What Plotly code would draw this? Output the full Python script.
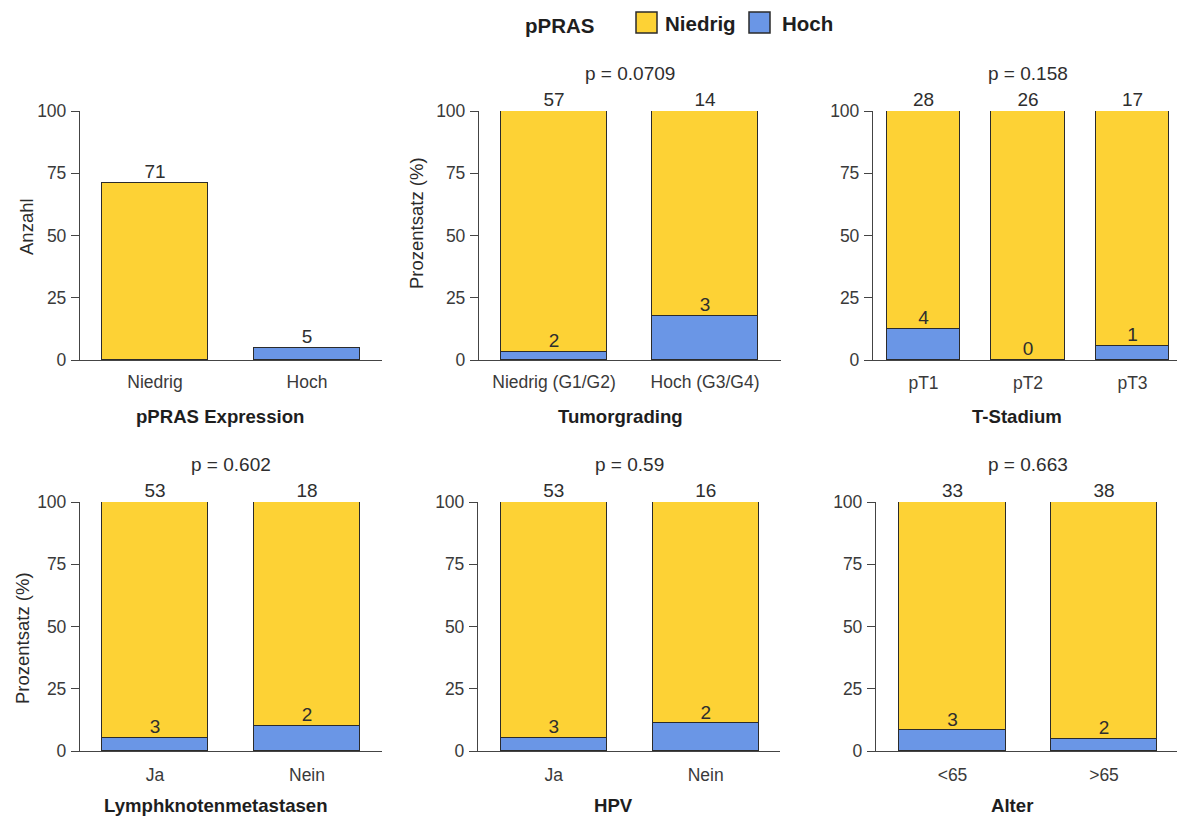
import plotly.graph_objects as go

# ---------------------------------------------------------------- data
# pPRAS expression (absolute counts)
expr_categories = ["Niedrig", "Hoch"]
expr_counts = [71, 5]

# Clinical variables: number of cases with low / high pPRAS per group
grading_categories = ["Niedrig (G1/G2)", "Hoch (G3/G4)"]
grading_niedrig = [57, 14]
grading_hoch = [2, 3]
grading_p = "0.0709"

tstage_categories = ["pT1", "pT2", "pT3"]
tstage_niedrig = [28, 26, 17]
tstage_hoch = [4, 0, 1]
tstage_p = "0.158"

lymph_categories = ["Ja", "Nein"]
lymph_niedrig = [53, 18]
lymph_hoch = [3, 2]
lymph_p = "0.602"

hpv_categories = ["Ja", "Nein"]
hpv_niedrig = [53, 16]
hpv_hoch = [3, 2]
hpv_p = "0.59"

age_categories = ["<65", ">65"]
age_niedrig = [33, 38]
age_hoch = [3, 2]
age_p = "0.663"

# ---------------------------------------------------------------- style
W, H = 1177, 816
YELLOW = "#FDD235"
BLUE = "#6A96E6"
EDGE = "#2b2b2b"
AXIS = "#444444"
TEXT = "#2e2e2e"
FONT = "Liberation Sans, Arial, sans-serif"
BAR_W = 0.70


def px_x(v):
    return v / W


def px_y(v):
    return 1 - v / H


def esc(s):
    return s.replace("<", "&lt;").replace(">", "&gt;")


# panel geometry in pixels: axis line start, y-axis position, axis end,
# first category centre, category step, plot top / bottom,
# plus placement of the x / y titles
panels = [
    dict(left=73, axis=79, right=382, c0=155, step=152, top=111, bottom=360,
         xtitle="pPRAS Expression", xt=(220, 416),
         ytitle="Anzahl", yt=(26, 227), lab_off=6),
    dict(left=472, axis=478, right=781, c0=554, step=151, top=111, bottom=360,
         xtitle="Tumorgrading", xt=(620, 416),
         ytitle="Prozentsatz (%)", yt=(417, 223), lab_off=6),
    dict(left=866, axis=872, right=1177, c0=923.5, step=104.5, top=111, bottom=360,
         xtitle="T-Stadium", xt=(1017, 416), ytitle=None, yt=None, lab_off=7),
    dict(left=73, axis=79, right=382, c0=155, step=152, top=502, bottom=751,
         xtitle="Lymphknotenmetastasen", xt=(216, 805),
         ytitle="Prozentsatz (%)", yt=(22, 638), lab_off=8),
    dict(left=471, axis=477, right=780, c0=553.7, step=152, top=502, bottom=751,
         xtitle="HPV", xt=(613, 805), ytitle=None, yt=None, lab_off=8),
    dict(left=869, axis=875, right=1177, c0=952.5, step=151.5, top=502, bottom=751,
         xtitle="Alter", xt=(1012, 805), ytitle=None, yt=None, lab_off=8),
]

groups = [
    None,
    (grading_categories, grading_niedrig, grading_hoch, grading_p),
    (tstage_categories, tstage_niedrig, tstage_hoch, tstage_p),
    (lymph_categories, lymph_niedrig, lymph_hoch, lymph_p),
    (hpv_categories, hpv_niedrig, hpv_hoch, hpv_p),
    (age_categories, age_niedrig, age_hoch, age_p),
]

fig = go.Figure()
layout = {}
annotations = []

bar_line = dict(color=EDGE, width=1.4)
label_font = dict(family=FONT, size=19, color=TEXT)

for i, (geo, grp) in enumerate(zip(panels, groups), start=1):
    xa = "x" if i == 1 else f"x{i}"
    ya = "y" if i == 1 else f"y{i}"

    if grp is None:
        cats = expr_categories
        colors = [YELLOW, BLUE]
        for c, v, col in zip(cats, expr_counts, colors):
            fig.add_trace(go.Bar(x=[c], y=[v], width=BAR_W, marker_color=col,
                                 marker_line=bar_line, xaxis=xa, yaxis=ya,
                                 cliponaxis=False, showlegend=False))
        fig.add_trace(go.Scatter(x=cats, y=expr_counts, mode="text",
                                 text=[str(v) for v in expr_counts],
                                 textposition="top center", textfont=label_font,
                                 xaxis=xa, yaxis=ya, cliponaxis=False,
                                 showlegend=False, hoverinfo="skip"))
    else:
        cats, niedrig, hoch, pval = grp
        pct_hoch = [h / (n + h) * 100 for n, h in zip(niedrig, hoch)]
        pct_niedrig = [n / (n + h) * 100 for n, h in zip(niedrig, hoch)]
        fig.add_trace(go.Bar(x=cats, y=pct_hoch, width=BAR_W, marker_color=BLUE,
                             marker_line=bar_line, xaxis=xa, yaxis=ya,
                             cliponaxis=False, showlegend=False))
        fig.add_trace(go.Bar(x=cats, y=pct_niedrig, width=BAR_W, marker_color=YELLOW,
                             marker_line=bar_line, xaxis=xa, yaxis=ya,
                             cliponaxis=False, showlegend=False))
        # counts of low pPRAS above the bars
        fig.add_trace(go.Scatter(x=cats, y=[p + q for p, q in zip(pct_hoch, pct_niedrig)],
                                 mode="text", text=[str(v) for v in niedrig],
                                 textposition="top center", textfont=label_font,
                                 xaxis=xa, yaxis=ya, cliponaxis=False,
                                 showlegend=False, hoverinfo="skip"))
        # counts of high pPRAS above the blue segment
        fig.add_trace(go.Scatter(x=cats, y=pct_hoch, mode="text",
                                 text=[str(v) for v in hoch],
                                 textposition="top center", textfont=label_font,
                                 xaxis=xa, yaxis=ya, cliponaxis=False,
                                 showlegend=False, hoverinfo="skip"))
        annotations.append(dict(
            x=(len(cats) - 1) / 2, xref=xa, y=px_y(geo["top"] - 38), yref="paper",
            text=f"p = {pval}", showarrow=False, xanchor="center", yanchor="middle",
            font=dict(family=FONT, size=19, color=TEXT)))

    # axis titles
    annotations.append(dict(
        x=px_x(geo["xt"][0]), y=px_y(geo["xt"][1]), xref="paper", yref="paper",
        text=f"<b>{geo['xtitle']}</b>", showarrow=False,
        xanchor="center", yanchor="middle",
        font=dict(family=FONT, size=18.6, color="#1e1e1e")))
    if geo["ytitle"]:
        annotations.append(dict(
            x=px_x(geo["yt"][0]), y=px_y(geo["yt"][1]), xref="paper", yref="paper",
            text=geo["ytitle"], textangle=-90, showarrow=False,
            xanchor="center", yanchor="middle",
            font=dict(family=FONT, size=18.5, color="#2a2a2a")))

    xr = [(geo["left"] - geo["c0"]) / geo["step"], (geo["right"] - geo["c0"]) / geo["step"]]
    xname = "xaxis" if i == 1 else f"xaxis{i}"
    yname = "yaxis" if i == 1 else f"yaxis{i}"
    layout[xname] = dict(
        type="category", categoryorder="array", categoryarray=cats,
        tickvals=cats, ticktext=[esc(c) for c in cats],
        domain=[px_x(geo["left"]), px_x(geo["right"])], range=xr,
        anchor=ya, showline=True, linecolor=AXIS, linewidth=1.3,
        ticks="", ticklabelstandoff=geo["lab_off"],
        showgrid=False, zeroline=False, automargin=False,
        tickfont=dict(family=FONT, size=17.5, color="#3a3a3a"),
    )
    layout[yname] = dict(
        range=[0, 100], tickvals=[0, 25, 50, 75, 100],
        domain=[px_y(geo["bottom"]), px_y(geo["top"])],
        anchor="free", position=px_x(geo["axis"]),
        showline=True, linecolor=AXIS, linewidth=1.3,
        ticks="outside", ticklen=8, tickcolor=AXIS, tickwidth=1.3,
        ticklabelstandoff=1,
        showgrid=False, zeroline=False, automargin=False,
        tickfont=dict(family=FONT, size=17.5, color="#3a3a3a"),
    )

# legend drawn at the top centre
shapes = []
for x0, col in [(636, YELLOW), (749, BLUE)]:
    shapes.append(dict(type="rect", xref="paper", yref="paper",
                       x0=px_x(x0), x1=px_x(x0 + 21), y0=px_y(33), y1=px_y(12),
                       fillcolor=col, line=dict(color=EDGE, width=1.5)))
legend_font = dict(family=FONT, size=20.5, color="#1e1e1e")
annotations += [
    dict(x=px_x(523), y=px_y(25), xref="paper", yref="paper", text="<b>pPRAS</b>",
         showarrow=False, xanchor="left", yanchor="middle", font=legend_font),
    dict(x=px_x(663), y=px_y(23), xref="paper", yref="paper", text="<b>Niedrig</b>",
         showarrow=False, xanchor="left", yanchor="middle", font=legend_font),
    dict(x=px_x(780), y=px_y(23), xref="paper", yref="paper", text="<b>Hoch</b>",
         showarrow=False, xanchor="left", yanchor="middle", font=legend_font),
]

fig.update_layout(
    width=W, height=H, margin=dict(l=0, r=0, t=0, b=0, autoexpand=False),
    paper_bgcolor="white", plot_bgcolor="white",
    barmode="stack", bargap=0, showlegend=False,
    font=dict(family=FONT, color=TEXT),
    annotations=annotations, shapes=shapes,
    **layout,
)

fig.write_html("out.html")
